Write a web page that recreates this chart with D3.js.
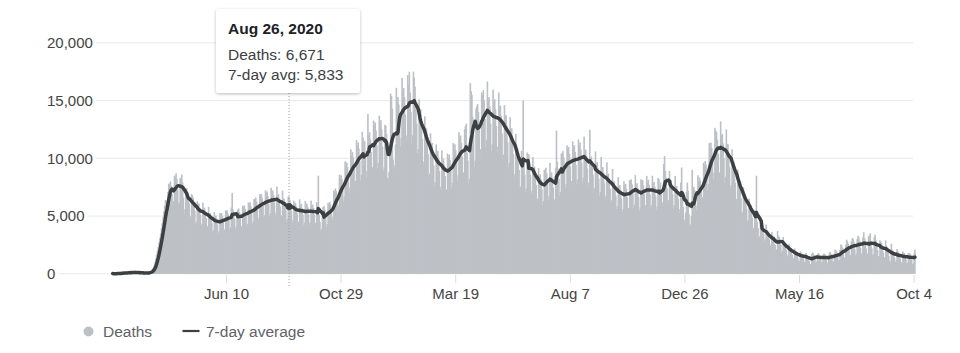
<!DOCTYPE html>
<html><head><meta charset="utf-8">
<script src="https://cdn.jsdelivr.net/npm/d3@7"></script>
<style>html,body{margin:0;padding:0;background:#fff;} svg{display:block;font-family:"Liberation Sans",Arial,sans-serif;}</style>
</head><body><svg id="chart" width="960" height="353"></svg>
<script>
const startDate = "2020-01-22";
const deaths2020 = [
17,1,8,16,14,26,49, 2,38,42,46,103,64,66, 72,70,85,87,100,107,100, 5,254,13,143,104,98,139,
115,125,4,207,11,160,79, 62,44,58,67,70,43,72, 84,81,100,104,229,191,220,
400,520,700,1000,1300,1650,2000, 2300,2700,3100,3500,3950,4400,4900, 5400,5900,6400,6300,6200,7100,7800,
7800,8000,7600,6900,5900,6300,8500, 8400,8700,8200,7300,6000,6200,8300, 8200,8600,7900,6600,5200,5600,7400,
7400,7100,6700,6100,5000,4800,6900, 6800,6600,6200,5500,4300,4500,6300, 6050,6100,5720,5110,4170,4340,6160,
5660,5720,5390,4810,3930,4110,5800, 5200,5260,4950,4420,3600,3780,5340, 4950,5040,4770,4280,3510,3690,5260,
5170,5260,4980,4470,3670,3850,5500, 5390,5490,5190,4660,3820,4020,5730, 7000,5600,5300,4750,3900,4100,5400,
5560,5660,5350,4800,3940,4140,5900, 5810,5910,5600,5020,4120,4330,6180, 6080,6190,5860,5250,4310,4530,6470,
6490,6610,6250,5610,4600,4840,6900, 6800,6920,6550,5870,4820,5070,7230, 7010,7130,6750,6050,4970,5220,7450,
7100,7220,6840,6130,5030,5290,7550, 6770,6890,6520,5840,4800,5040,7200, 6500,6500,6210,5500,4500,4750,6700,
6671,6400,6050,5430,4460,4690,6330, 6050,6160,5830,5230,4290,4510,6440, 5940,6050,5720,5130,4210,4430,6320,
5960,6070,5750,5150,4230,4440,6340, 5900,6000,5700,5100,4200,4400,6200, 5400,8500,5100,4500,3700,3900,5500,
5780,5880,5570,4990,4100,4310,6140, 5980,6230,6020,5510,4620,4950,7210, 7100,7390,7160,6560,5500,5900,8600,
8230,8530,8230,7510,6270,6710,9730, 9340,9640,9250,8410,7000,7450,10780, 10230,10530,10070,9120,7570,8040,11580,
11100,11380,10840,9790,8090,8560,12300, 11800,9400,11500,10100,8300,8900,13850, 11950,12250,11650,10550,8720,9230,13270,
12870,13100,12400,11120,9130,9590,13690, 12700,13300,12500,11000,8900,9200,12900, 12800,12100,8300,8200,8800,11000,15600,
15400,14300
];
const deaths2021 = [
9900,9400,9100,11200,16100,
14850,15310,14670,13300,11050,11750,16970, 15730,16090,15300,13780,11360,11970,17200, 16400,17500,15700,14000,11200,12000,17500,
17000,16200,14800,13000,10400,10800,15100, 14230,14260,13260,11690,9430,9730,13640, 12550,12590,11730,10360,8370,8660,12160,
11250,11330,10610,9410,7640,7940,11200, 10520,10630,9990,8880,7240,7550,10690, 9790,9970,9430,8460,6940,7300,10410,
10030,10320,9870,8930,7400,7860,11330, 10910,11210,10720,9690,8030,8520,12260, 11770,11980,11340,10170,8350,8770,12520,
12800,13000,10500,9800,7800,8200,16500, 15800,15500,13600,12000,9200,9800,14300, 14500,14700,14000,12500,10200,10800,15700,
15500,15900,15000,13400,11000,11600,16650, 15000,15300,14500,13000,10600,11200,15950, 14800,15100,14250,12800,10500,11000,15700,
14420,14570,13670,12160,9910,10320,14610, 13650,13740,12870,11400,9250,9620,13560, 12600,12610,11740,10360,8360,8640,12110,
10780,10840,10140,8980,7280,7560,10650, 10000,15000,9700,8600,7100,7400,10500, 10290,10350,9670,8550,6930,7180,10120,
9220,9280,8680,7700,6250,6490,9150, 8470,8620,8160,7320,6010,6310,9010, 9020,9180,8690,7790,6400,6720,9600,
8640,8790,8320,7460,6120,6440,9180, 12400,9700,9100,8200,6700,7100,10400, 10450,10640,10070,9030,7410,7790,11120,
10780,10980,10390,9310,7640,8040,11470, 10950,11140,10550,9450,7760,8160,11640, 11170,11370,10760,9640,7920,8320,11880,
10560,10750,10180,9120,7490,7870,12460, 9960,10140,9590,8600,7060,7420,10590, 9520,9690,9170,8220,6750,7090,10120,
9080,9240,8750,7840,6440,6770,9650, 8530,8680,8220,7360,6050,6360,9070, 7870,8010,7580,6790,5580,5860,8370,
7540,7670,7260,6510,5340,5620,8010, 7650,7780,7370,6600,5420,5700,8130, 8030,8180,7740,6940,5690,5990,8540,
7700,7840,7420,6650,5460,5740,8190, 7980,8120,7690,6890,5660,5950,8480, 7950,8150,7680,6900,5650,5940,8500,
7810,7950,7530,6750,5540,5820,8300, 8200,6900,7900,7200,5900,6200,9500, 10200,8900,8300,7400,6100,6400,8900,
7980,8120,7690,6890,5660,5950,8480, 7500,7600,7200,6500,5300,5600,7900, 9200,7000,5800,4700,4500,5300,7100,
7900,7200,5200
];
const deaths2022 = [
4300,4200,5000,9000,
7270,7530,7250,6600,5510,5890,8530, 8020,8330,8060,7360,6160,6610,9610, 9380,9770,9440,8650,7250,7770,11310,
11000,11360,10890,9880,8210,8740,12640, 12400,12260,11610,10400,8000,8780,13200, 12000,12100,11300,10000,7900,8400,12500,
11210,11230,10450,9220,7440,7680,10780, 9790,9740,9010,7890,6320,6480,9010, 8140,8110,7490,6560,5250,5380,7490,
6970,6960,6440,5650,4540,4670,6510, 5980,5960,5510,4830,3870,3970,5520, 4900,8500,4500,3950,3150,3250,4500,
4020,4090,3870,3470,2850,2990,4270, 3410,3470,3290,2950,2420,2540,3630, 3200,3300,2600,2500,1900,2100,3700,
3300,3200,2900,2500,1800,2000,3200, 2700,2600,2400,2000,1500,1600,2600, 2300,2200,2000,1650,1250,1350,2200,
2000,1900,1750,1400,1050,1150,1950, 1850,1750,1600,1300,1000,1050,1810, 1650,1550,1450,1100,850,800,1700,
1850,1750,1600,1300,950,1050,1650, 1800,1700,1550,1250,950,1050,1640, 1750,1700,1550,1250,900,1000,1650,
1900,1850,1700,1350,1000,1080,1760, 2100,2000,1850,1500,1150,1200,2100, 2550,2450,2250,1800,1350,1450,2500,
2950,2800,2600,2050,1550,1650,2850, 3100,3000,2750,2150,1600,1750,3010, 3300,3150,2850,2250,1700,1800,3150,
3600,3100,2850,2200,1600,1750,3240, 3300,3500,2850,2200,1600,1700,3190, 3400,2900,2650,2050,1500,1550,2890,
2800,2650,2400,1850,1350,1450,2900, 2400,2250,2050,1550,1100,1000,2600, 2100,2000,1800,1400,1000,1100,2150,
1950,1850,1700,1300,900,1000,1940, 1850,1800,1600,1250,900,950,1800, 1800,1750,1550,1200,850,900,1750,
2100
];
const yTicks = [0, 5000, 10000, 15000, 20000];
const xTickDates = ["2020-06-10", "2020-10-29", "2021-03-19", "2021-08-07", "2021-12-26", "2022-05-16", "2022-10-04"];
const xTickLabels = ["Jun 10", "Oct 29", "Mar 19", "Aug 7", "Dec 26", "May 16", "Oct 4"];
const tooltipDate = "2020-08-26";
const legendLabels = ["Deaths", "7-day average"];

const parse = d3.utcParse("%Y-%m-%d");
const t0 = parse(startDate);
const daily = [...deaths2020, ...deaths2021, ...deaths2022].map((v, i) => ({date: d3.utcDay.offset(t0, i), value: v}));
const avg = daily.map((d, i) => {
  const win = daily.slice(Math.max(0, i - 6), i + 1);
  return {date: d.date, value: d3.mean(win, w => w.value)};
});

const svg = d3.select("#chart");
const x = d3.scaleUtc().domain([t0, parse("2022-10-04")]).range([112.7, 914.1]);
const y = d3.scaleLinear().domain([0, 20000]).range([273.8, 42.8]);
const fmt = d3.format(",");
const textCol = "#444";

const defs = svg.append("defs");
const f = defs.append("filter").attr("id", "sh").attr("x", "-20%").attr("y", "-20%").attr("width", "140%").attr("height", "150%");
f.append("feDropShadow").attr("dx", 0).attr("dy", 1).attr("stdDeviation", 1.6).attr("flood-color", "#000").attr("flood-opacity", 0.28);

const yg = svg.append("g");
yTicks.forEach(t => {
  const lab = yg.append("text").attr("x", 47).attr("y", y(t) + 5.4)
    .attr("font-size", 15).attr("fill", textCol).text(fmt(t));
  const end = 47 + lab.node().getComputedTextLength();
  yg.insert("line", "text").attr("x1", end + 3).attr("x2", 913).attr("y1", y(t)).attr("y2", y(t))
    .attr("stroke", "#e9e9e9").attr("stroke-width", 1);
});

const xg = svg.append("g");
xTickDates.forEach((s, i) => {
  const px = x(parse(s));
  xg.append("line").attr("x1", px).attr("x2", px).attr("y1", 275).attr("y2", 283).attr("stroke", "#dadce0");
  xg.append("text").attr("x", px).attr("y", 298.5).attr("text-anchor", "middle")
    .attr("font-size", 15).attr("fill", textCol).text(xTickLabels[i]);
});

const step = x(d3.utcDay.offset(t0, 1)) - x(t0);
const bw = step * 2;
svg.append("g").selectAll("rect").data(daily).join("rect")
  .attr("x", d => x(d.date) - bw / 2)
  .attr("width", bw)
  .attr("y", d => y(d.value))
  .attr("height", d => y(0) - y(d.value))
  .attr("fill", "#bdc1c6");

const tt = parse(tooltipDate);
const tx = x(tt);
svg.append("line").attr("x1", tx).attr("x2", tx).attr("y1", 93).attr("y2", 288)
  .attr("stroke", "#9aa0a6").attr("stroke-width", 1).attr("stroke-dasharray", "1,2");

svg.append("path").datum(avg)
  .attr("d", d3.line().x(d => x(d.date)).y(d => y(d.value)))
  .attr("fill", "none").attr("stroke", "#3c4043").attr("stroke-width", 3.5)
  .attr("stroke-linejoin", "round").attr("stroke-linecap", "round");

const idx = d3.utcDay.count(t0, tt);
svg.append("circle").attr("cx", tx).attr("cy", y(avg[idx].value)).attr("r", 3.5).attr("fill", "#3c4043");

const tg = svg.append("g");
tg.append("rect").attr("x", 216).attr("y", 9).attr("width", 144).attr("height", 84).attr("rx", 3)
  .attr("fill", "#fff").attr("filter", "url(#sh)");
tg.append("text").attr("x", 228).attr("y", 34.3).attr("font-size", 15.5).attr("font-weight", "bold")
  .attr("fill", "#202124").text(d3.utcFormat("%b %-d, %Y")(tt));
tg.append("text").attr("x", 228).attr("y", 59.8).attr("font-size", 15.5).attr("fill", "#3c4043")
  .text("Deaths: " + fmt(daily[idx].value));
tg.append("text").attr("x", 228).attr("y", 79.6).attr("font-size", 15.5).attr("fill", "#3c4043")
  .text("7-day avg: " + fmt(Math.round(avg[idx].value)));

const lg = svg.append("g");
lg.append("circle").attr("cx", 88.5).attr("cy", 331.5).attr("r", 5).attr("fill", "#bdc1c6");
lg.append("text").attr("x", 103).attr("y", 337).attr("font-size", 15.5).attr("fill", "#5f6368").text(legendLabels[0]);
lg.append("line").attr("x1", 182.5).attr("x2", 199.5).attr("y1", 331).attr("y2", 331).attr("stroke", "#3c4043").attr("stroke-width", 2.2);
lg.append("text").attr("x", 206).attr("y", 337).attr("font-size", 15.5).attr("fill", "#5f6368").text(legendLabels[1]);
</script></body></html>
